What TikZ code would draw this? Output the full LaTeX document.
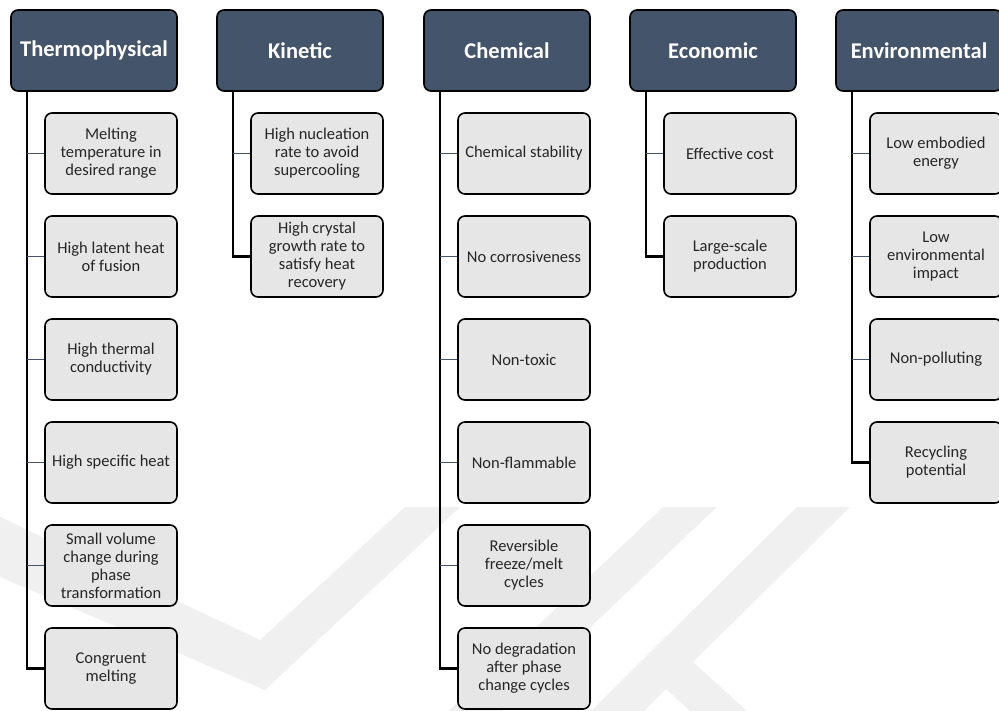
\documentclass[tikz,border=0pt]{standalone}
\usepackage{fontspec}
\setmainfont{Carlito}

\definecolor{headblue}{HTML}{44546A}
\definecolor{itemgray}{HTML}{E7E6E6}
\definecolor{markgray}{HTML}{F0F0F0}

\tikzset{
	head/.style={draw=black, line width=1.6pt, fill=headblue, rounded corners=7pt,
		minimum width=166pt, minimum height=81pt, inner sep=0pt,
		text=white, font=\fontsize{22.5}{24}\selectfont\bfseries},
	item/.style={draw=black, line width=1.6pt, fill=itemgray, rounded corners=7pt,
		minimum width=132pt, minimum height=81pt, inner sep=0pt, align=center,
		text=black!85, font=\fontsize{16.5}{18}\selectfont},
	trunk/.style={black, line width=2.2pt},
	twig/.style={headblue, line width=0.9pt}
}

\begin{document}
\begin{tikzpicture}[x=1pt, y=-1pt]
		\useasboundingbox (0, 0) rectangle (999, 711);
		
		% faint watermark in the background
		\fill[markgray] (0, 517) -- (260, 640) -- (405, 507) -- (460, 507) -- (265, 690) -- (0, 577) -- cycle;
		\fill[markgray] (663, 507) -- (717, 507) -- (502, 711) -- (448, 711) -- cycle;
		\fill[markgray] (797, 507) -- (850, 507) -- (693, 662) -- (747, 711) -- (690, 711)
			-- (666, 689) -- (644, 711) -- (591, 711) -- cycle;
		
		% headers
		\foreach \l/\n/\t in {11/thermo/Thermophysical, 217/kin/Kinetic, 424/chem/Chemical, 630/econ/Economic, 836/env/Environmental}
		{
			\node[head] (\n) at (\l + 83, 50.5) {\t};
			\coordinate (\n-trunk) at ([xshift=17pt]\n.south west);
		}
		
		% Thermophysical
		\foreach \t [count=\k] in {{Melting\\temperature in\\desired range}, {High latent heat\\of fusion},
			{High thermal\\conductivity}, {High specific heat}, {Small volume\\change during\\phase\\transformation},
			{Congruent\\melting}}
		\node[item] (thermo-\k) at (111, 50.5 + 103*\k) {\t};
		
		% Kinetic
		\foreach \t [count=\k] in {{High nucleation\\rate to avoid\\supercooling}, {High crystal\\growth rate to\\satisfy heat\\recovery}}
		\node[item] (kin-\k) at (317, 50.5 + 103*\k) {\t};
		
		% Chemical
		\foreach \t [count=\k] in {{Chemical stability}, {No corrosiveness}, {Non-toxic}, {Non-flammable},
			{Reversible\\freeze/melt\\cycles}, {No degradation\\after phase\\change cycles}}
		\node[item] (chem-\k) at (524, 50.5 + 103*\k) {\t};
		
		% Economic
		\foreach \t [count=\k] in {{Effective cost}, {Large-scale\\production}}
		\node[item] (econ-\k) at (730, 50.5 + 103*\k) {\t};
		
		% Environmental
		\foreach \t [count=\k] in {{Low embodied\\energy}, {Low\\environmental\\impact}, {Non-polluting}, {Recycling\\potential}}
		\node[item] (env-\k) at (936, 50.5 + 103*\k) {\t};
		
		% trunk lines, ending in the last item of each column
		\foreach \n/\last in {thermo/6, kin/2, chem/6, econ/2, env/4}
		\draw[trunk] (\n-trunk) |- (\n-\last.west);
		
		% thin ticks to the other items
		\foreach \n/\k in {thermo/1, thermo/2, thermo/3, thermo/4, thermo/5, kin/1, chem/1, chem/2, chem/3, chem/4, chem/5, econ/1, env/1, env/2, env/3}
		\draw[twig] (\n-\k.west) -- (\n-trunk |- \n-\k.west);
		
	\end{tikzpicture}
\end{document}
